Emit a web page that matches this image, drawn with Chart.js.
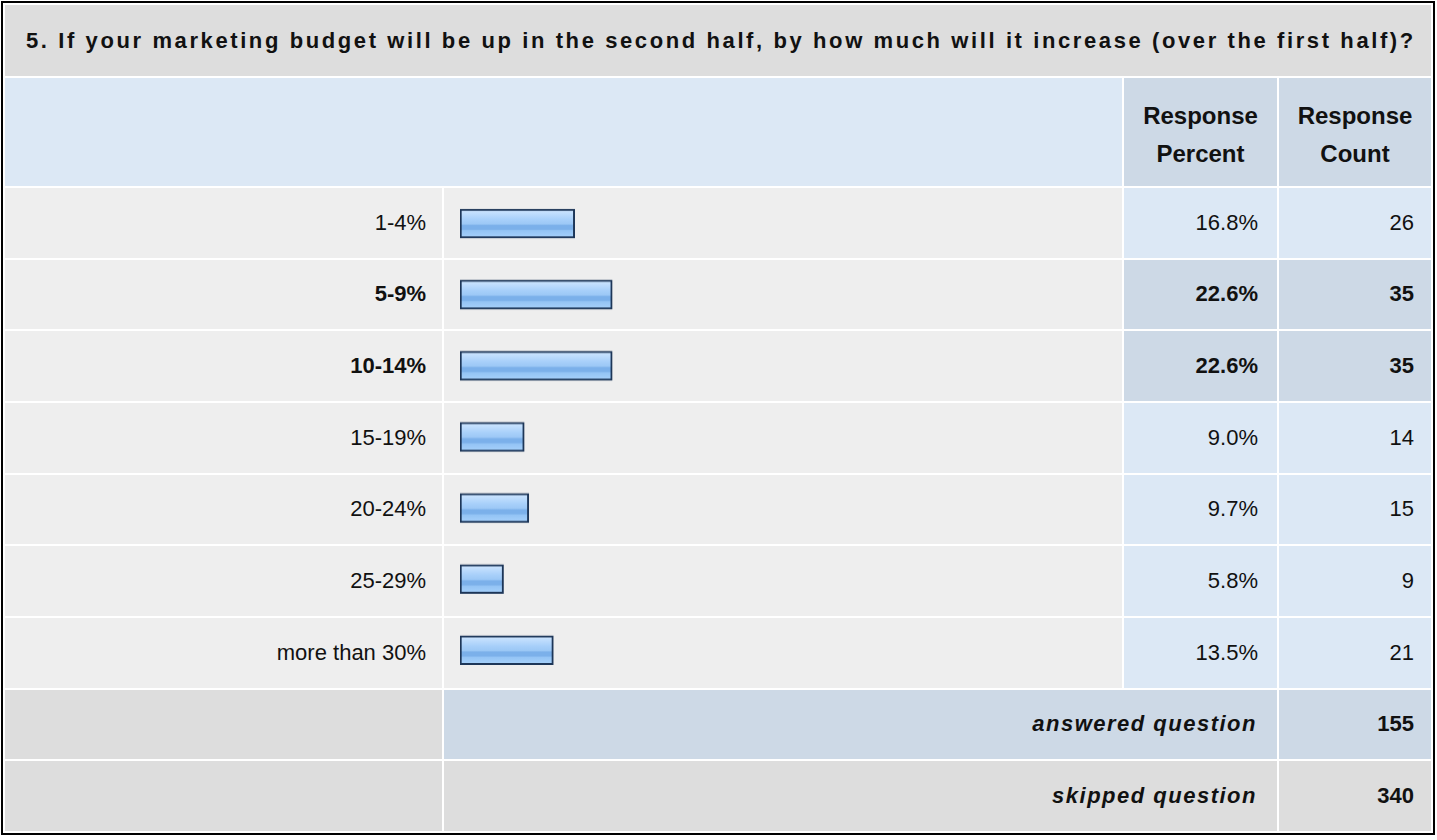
<!DOCTYPE html>
<html>
<head>
<meta charset="utf-8">
<title>Marketing budget increase</title>
<script src="https://cdn.jsdelivr.net/npm/chart.js@4.4.1/dist/chart.umd.min.js"></script>
<style>
  html, body { margin: 0; padding: 0; background: #fff; }
  body { font-family: Arial, "Liberation Sans", Helvetica, sans-serif; color: #111; }
  #frame {
    position: absolute; left: 1px; top: 1px;
    width: 1426px; height: 826px;
    border: 2px solid #000; padding: 2px; background: #fff;
    display: grid;
    grid-template-columns: 437px 678px 153px 152px;
    grid-template-rows: 71px 108px repeat(9, 1fr);
    gap: 2px;
  }
  .cell { display: flex; align-items: center; font-size: 22px; box-sizing: border-box; }
  .title { background: #dddddd; font-weight: bold; font-size: 22px; letter-spacing: 2.6px; padding-left: 21px; }
  .head { background: #dce8f5; }
  .headcol { background: #cdd9e6; font-weight: bold; font-size: 24px; line-height: 38px; justify-content: center; text-align: center; padding-top: 6px; }
  .label { background: #eeeeee; justify-content: flex-end; padding-right: 16px; }
  .barcell { background: #eeeeee; }
  .pct { background: #dce8f5; justify-content: flex-end; padding-right: 19px; }
  .cnt { background: #dce8f5; justify-content: flex-end; padding-right: 17px; }
  .top { font-weight: bold; }
  .pct.top, .cnt.top { background: #cdd9e6; }
  .foot-left { background: #dddddd; }
  .foot-span { justify-content: flex-end; padding-right: 20px; font-weight: bold; font-style: italic; letter-spacing: 1.5px; }
  .foot-cnt { justify-content: flex-end; padding-right: 17px; font-weight: bold; }
  .answered { background: #cdd9e6; }
  .skipped { background: #dddddd; }
  #chartBox { position: relative; z-index: 2; }
</style>
</head>
<body>
<div id="frame"></div>

<script>
const questionTitle = "5. If your marketing budget will be up in the second half, by how much will it increase (over the first half)?";
const categories = ["1-4%", "5-9%", "10-14%", "15-19%", "20-24%", "25-29%", "more than 30%"];
const percents = [16.8, 22.6, 22.6, 9.0, 9.7, 5.8, 13.5];
const counts = [26, 35, 35, 14, 15, 9, 21];
const answeredCount = 155;
const skippedCount = 340;

// bars start a little left of zero so even small answers get a visible stub
const BAR_BASE = -0.93;

const frame = document.getElementById("frame");

function addCell(cls, row, col, html) {
  const el = document.createElement("div");
  el.className = "cell " + cls;
  el.style.gridRow = row;
  el.style.gridColumn = col;
  if (html !== undefined) el.innerHTML = html;
  frame.appendChild(el);
  return el;
}

// table around the chart
addCell("title", "1", "1 / span 4", questionTitle);
addCell("head", "2", "1 / span 2");
addCell("headcol", "2", "3", "Response<br>Percent");
addCell("headcol", "2", "4", "Response<br>Count");

const maxPct = Math.max(...percents);
categories.forEach((cat, i) => {
  const row = String(i + 3);
  const top = percents[i] === maxPct ? " top" : "";
  addCell("label" + top, row, "1", cat);
  addCell("barcell", row, "2");
  addCell("pct" + top, row, "3", percents[i].toFixed(1) + "%");
  addCell("cnt" + top, row, "4", String(counts[i]));
});

addCell("foot-left", "10", "1");
addCell("foot-span answered", "10", "2 / span 2", "answered question");
addCell("foot-cnt answered", "10", "4", String(answeredCount));
addCell("foot-left", "11", "1");
addCell("foot-span skipped", "11", "2 / span 2", "skipped question");
addCell("foot-cnt skipped", "11", "4", String(skippedCount));

const chartBox = addCell("", "3 / span 7", "2");
chartBox.id = "chartBox";
chartBox.className = "";
chartBox.innerHTML = '<canvas id="myBarChart"></canvas>';

// glossy blue fill, one vertical gradient per bar
function barFill(context) {
  const chart = context.chart;
  const yScale = chart.scales && chart.scales.y;
  if (!chart.chartArea || !yScale || context.dataIndex === undefined) {
    return "#a6cdf7";
  }
  const y = yScale.getPixelForValue(context.dataIndex);
  const g = chart.ctx.createLinearGradient(0, y - 14.5, 0, y + 14.5);
  g.addColorStop(0.0, "#d2e8ff");
  g.addColorStop(0.18, "#bddcfd");
  g.addColorStop(0.36, "#a8d0fa");
  g.addColorStop(0.52, "#9cc8f6");
  g.addColorStop(0.56, "#7bb0ea");
  g.addColorStop(0.70, "#7bb0ea");
  g.addColorStop(0.74, "#94c4f5");
  g.addColorStop(1.0, "#a8d2fb");
  return g;
}

const ctx = document.getElementById("myBarChart").getContext("2d");
const myBarChart = new Chart(ctx, {
  type: "bar",
  data: {
    labels: categories,
    datasets: [{
      data: percents,
      base: BAR_BASE,
      backgroundColor: barFill,
      borderColor: "#1d3658",
      borderWidth: 2,
      borderSkipped: false,
      barThickness: 29
    }]
  },
  options: {
    indexAxis: "y",
    responsive: true,
    maintainAspectRatio: false,
    animation: false,
    // a little more room below shifts each bar slightly above its row centre
    layout: { padding: { left: 16, right: 9, top: 0, bottom: 3 } },
    scales: {
      x: { display: false, min: BAR_BASE, max: 100 },
      y: { display: false }
    },
    plugins: {
      legend: { display: false },
      tooltip: { enabled: false }
    }
  }
});
</script>
</body>
</html>
